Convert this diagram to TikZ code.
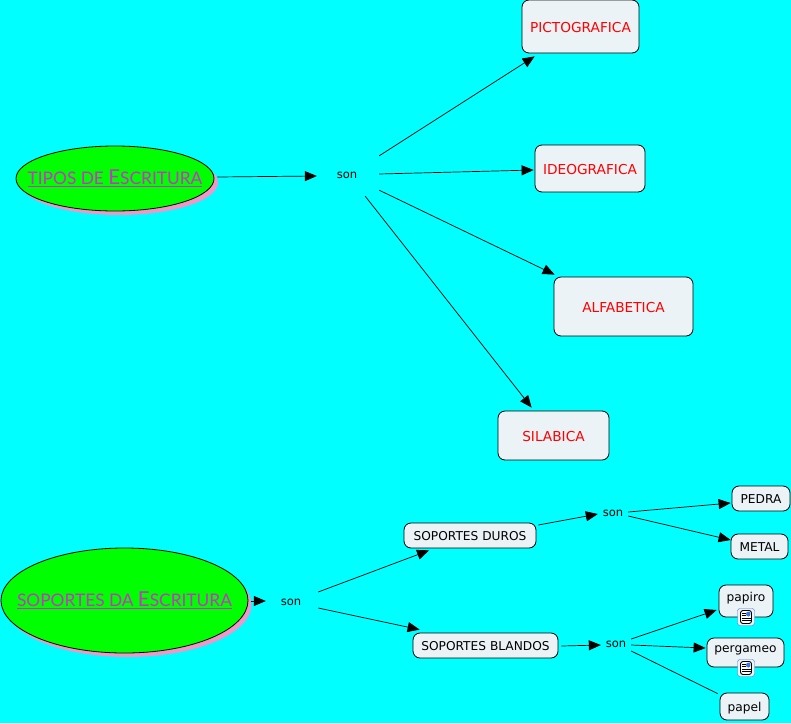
\documentclass[tikz,border=0pt]{standalone}
\usepackage{fontspec}
\setmainfont{DejaVu Sans}
\newfontfamily\titlefont{Lato}
\usetikzlibrary{shapes.geometric,arrows.meta,positioning}
\definecolor{bgcyan}{RGB}{0,255,255}
\definecolor{boxfill}{RGB}{236,243,247}
\definecolor{titlegreen}{RGB}{0,255,0}
\definecolor{titlepink}{RGB}{240,150,200}
\definecolor{titletext}{RGB}{200,50,200}
\definecolor{linkblue}{RGB}{60,120,220}
\newcommand{\titleE}{{\fontsize{20.5}{20}\selectfont E}}
\tikzset{
  bigbox/.style={rectangle, rounded corners=7pt, draw=black, line width=0.8pt, fill=boxfill, text=red, font=\fontsize{13.7}{15}\selectfont, text height=12pt, text depth=0pt, inner sep=0pt},
  smallbox/.style={rectangle, rounded corners=7pt, draw=black, line width=0.8pt, fill=boxfill, font=\fontsize{12.2}{14}\selectfont, text height=10.2pt, text depth=0pt, inner sep=0pt},
  linker/.style={rectangle, font=\fontsize{11.5}{13}\selectfont, inner sep=0pt},
  title/.style={ellipse, draw=black, line width=0.8pt, fill=titlegreen, inner sep=0pt},
  titlelabel/.style={text=titletext, font=\titlefont\fontsize{17.3}{18}\selectfont, inner sep=0pt},
  shadowpink/.style={ellipse, fill=titlepink, inner sep=0pt},
  doclink/.style={rectangle, rounded corners=2.5pt, draw=linkblue, fill=boxfill, minimum size=17pt, inner sep=0pt,
    path picture={
      \fill[white] ([xshift=3pt,yshift=-2pt]path picture bounding box.north west) rectangle ([xshift=-3pt,yshift=2pt]path picture bounding box.south east);
      \draw[black, line width=0.9pt] ([xshift=3pt,yshift=-2pt]path picture bounding box.north west) rectangle ([xshift=-3pt,yshift=2pt]path picture bounding box.south east);
      \fill[linkblue] ([xshift=-8.5pt,yshift=-3pt]path picture bounding box.north east) rectangle ([xshift=-4pt,yshift=-8pt]path picture bounding box.north east);
      \foreach \i/\e in {4.5/8,7/8,9.5/13,12/13} {\draw[black, line width=0.8pt] ([xshift=4pt,yshift=-\i pt]path picture bounding box.north west) -- ([xshift=\e pt,yshift=-\i pt]path picture bounding box.north west);}
    }},
  arrow/.style={-{Triangle[length=12pt,width=10pt]}, line width=0.7pt},
  plainline/.style={line width=0.7pt}
}
\begin{document}
\begin{tikzpicture}[x=1pt,y=-1pt]
	\useasboundingbox[fill=bgcyan] (0,0) rectangle (791,723);
	% upper map
	\node (tiposshadow) [shadowpink, minimum width=198pt, minimum height=65pt] at (119,182.5) {};
	\node (tipos) [title, minimum width=198pt, minimum height=65pt, label={[titlelabel]center:\underline{TIPOS DE \titleE SCRITURA}}] at (115,178.5) {};
	\node (son1) [linker, minimum width=64pt, minimum height=36pt] at (347,175) {son};
	\node (picto) [bigbox, minimum width=117pt, minimum height=53pt] at (580.5,26.5) {PICTOGRAFICA};
	\node (ideo) [bigbox, node distance=142pt, below of=picto, xshift=9.5, minimum width=110pt, minimum height=47pt] {IDEOGRAFICA};
	\node (alfa) [bigbox, node distance=138pt, below of=ideo, xshift=33.5, minimum width=139pt, minimum height=59pt] {ALFABETICA};
	\node (sila) [bigbox, node distance=129pt, below of=alfa, xshift=-70, minimum width=111pt, minimum height=49pt] {SILABICA};
	\draw [arrow] ([xshift=3,yshift=1.5]tipos.east) -- ([xshift=2,yshift=-1]son1.west);
	\draw [arrow] ([yshift=1]son1.north east) -- ([xshift=13,yshift=-3]picto.south west);
	\draw [arrow] ([yshift=1]son1.east) -- ([xshift=-1,yshift=-1.5]ideo.west);
	\draw [arrow] ([yshift=3]son1.south east) -- ([xshift=1,yshift=2]alfa.north west);
	\draw [arrow] ([xshift=-14,yshift=-3]son1.south east) -- ([xshift=34,yshift=3]sila.north west);
	% lower map
	\node (soposhadow) [shadowpink, minimum width=247pt, minimum height=105pt] at (128,604.5) {};
	\node (sopo) [title, minimum width=247pt, minimum height=105pt, label={[titlelabel]center:\underline{SOPORTES DA \titleE SCRITURA}}] at (124.5,600.5) {};
	\node (son2) [linker, minimum width=50pt, minimum height=18pt] at (291,602) {son};
	\node (duros) [smallbox, minimum width=132pt, minimum height=25pt] at (470,535.5) {SOPORTES DUROS};
	\node (blandos) [smallbox, node distance=110pt, below of=duros, xshift=15.5, minimum width=145pt, minimum height=25pt] {SOPORTES BLANDOS};
	\node (son3) [linker, minimum width=30pt, minimum height=14pt] at (613,513.5) {son};
	\node (son4) [linker, minimum width=30pt, minimum height=14pt] at (616,644) {son};
	\node (pedra) [smallbox, minimum width=58pt, minimum height=25pt] at (761,498.5) {PEDRA};
	\node (metal) [smallbox, node distance=48pt, below of=pedra, xshift=-1.5, minimum width=57pt, minimum height=25pt] {METAL};
	\node (papiro) [smallbox, minimum width=54pt, minimum height=32pt] at (746,601) {\raisebox{5pt}{papiro}};
	\node (pergameo) [smallbox, minimum width=77pt, minimum height=29pt] at (745.5,652.5) {\raisebox{5.5pt}{pergameo}};
	\node (papel) [smallbox, minimum width=49pt, minimum height=27pt] at (744.5,706.5) {papel};
	\node (icon1) [doclink] at (746,617) {};
	\node (icon2) [doclink] at (746,668) {};
	\draw [arrow] ([xshift=3,yshift=-0.5]sopo.east) -- ([yshift=1]son2.west);
	\draw [arrow] ([xshift=2,yshift=10]son2.east) -- ([xshift=-41,yshift=-2]duros.south);
	\draw [arrow] ([xshift=2,yshift=-6]son2.east) -- ([xshift=7,yshift=3]blandos.north west);
	\draw [arrow] ([xshift=2,yshift=10.5]duros.east) -- ([yshift=-0.5]son3.west);
	\draw [arrow] ([yshift=1.5]son3.east) -- ([xshift=-1,yshift=-4.5]pedra.west);
	\draw [arrow] ([yshift=-2.5]son3.east) -- ([yshift=6.5]metal.west);
	\draw [arrow] ([xshift=3,yshift=-0.5]blandos.east) -- ([yshift=-1]son4.west);
	\draw [arrow] ([yshift=5]son4.east) -- ([xshift=-2,yshift=-9]papiro.west);
	\draw [arrow] ([yshift=-1]son4.east) -- ([xshift=-1,yshift=4.5]pergameo.west);
	\draw [plainline] ([yshift=-7]son4.east) -- ([xshift=-2,yshift=-1]papel.north west);
\end{tikzpicture}
\end{document}
